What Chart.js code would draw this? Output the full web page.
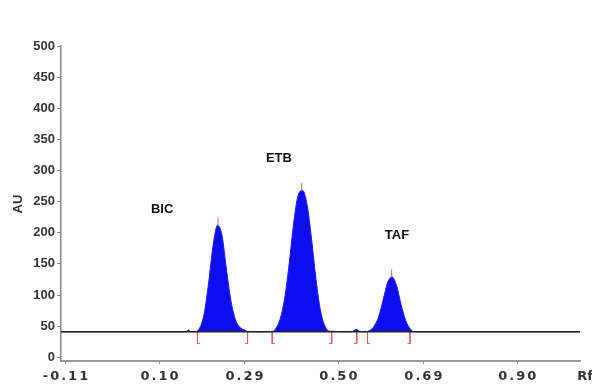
<!DOCTYPE html>
<html lang="en">
  <head>
    <meta charset="UTF-8" />
    <title>Densitogram</title>
    <script src="https://cdn.jsdelivr.net/npm/chart.js"></script>
    <style>
      html, body { margin: 0; padding: 0; background: #fff; }
      #wrap { width: 592px; height: 385px; position: relative; }
    </style>
  </head>
  <body>
    <div id="wrap"><canvas id="chart"></canvas></div>

    <script>
      // densitogram trace (Rf vs AU)
      const rfValues = [
        -0.12, 0.16, 0.165, 0.17, 0.18, 0.19, 0.20, 0.21, 0.22, 0.23, 0.24, 0.25, 0.26, 0.27, 0.28, 0.29, 0.30,
        0.35, 0.36, 0.37, 0.38, 0.39, 0.40, 0.41, 0.42, 0.43, 0.44, 0.45, 0.46, 0.47, 0.48,
        0.53, 0.54, 0.55,
        0.56, 0.57, 0.58, 0.59, 0.60, 0.61, 0.62, 0.63, 0.64, 0.65, 0.66, 0.67, 1.04
      ];
      const auValues = [
        41, 41, 44, 41, 41, 47, 70, 120, 180, 212, 195, 140, 90, 60, 48, 44, 41,
        41, 46, 62, 95, 150, 215, 260, 268, 245, 190, 125, 75, 50, 42,
        41, 45, 41,
        41, 43, 50, 65, 92, 120, 129, 115, 85, 60, 46, 41, 41
      ];
      const baselineAU = 41;

      const peakNames = ['BIC', 'ETB', 'TAF'];
      const peakRf = [0.231, 0.418, 0.619];
      const peakAU = [212, 268, 129];

      const bracketLeftRf = [0.185, 0.352, 0.565];
      const bracketRightRf = [0.297, 0.485, 0.541, 0.66];

      const xTickValues = [-0.11, 0.10, 0.29, 0.50, 0.69, 0.90];
      const yTickValues = [0, 50, 100, 150, 200, 250, 300, 350, 400, 450, 500];

      // where the peak names sit, in Rf / AU units
      const nameAnchors = [[0.106, 238], [0.367, 320], [0.631, 195]];

      const trace = rfValues.map((x, i) => ({ x: x, y: auValues[i] }));

      const markers = [];
      peakRf.forEach((x, i) => {
        markers.push({ x: x, y: peakAU[i] }, { x: x, y: peakAU[i] + 12 }, { x: x, y: null });
      });
      bracketLeftRf.forEach(x => {
        markers.push({ x: x, y: baselineAU }, { x: x, y: 22 }, { x: x + 0.006, y: 22 }, { x: x, y: null });
      });
      bracketRightRf.forEach(x => {
        markers.push({ x: x, y: baselineAU }, { x: x, y: 22 }, { x: x - 0.006, y: 22 }, { x: x, y: null });
      });

      const textPlugin = {
        id: 'texts',
        afterDraw(chart) {
          const c = chart.ctx;
          const xs = chart.scales.x;
          const ys = chart.scales.y;
          c.save();
          c.fillStyle = '#111';
          c.textAlign = 'center';
          c.textBaseline = 'middle';
          c.font = 'bold 13px "Liberation Sans", Arial, sans-serif';
          peakNames.forEach((name, i) => {
            c.fillText(name, xs.getPixelForValue(nameAnchors[i][0]), ys.getPixelForValue(nameAnchors[i][1]));
          });

          // x tick labels
          c.fillStyle = '#333';
          c.font = 'bold 13px "DejaVu Sans", Verdana, sans-serif';
          c.letterSpacing = '2px';
          xTickValues.forEach(v => {
            c.fillText(v.toFixed(2), xs.getPixelForValue(v) + 1, 377);
          });
          c.letterSpacing = '0px';
          c.fillText('Rf', 585, 377);

          c.translate(18, 204);
          c.rotate(-Math.PI / 2);
          c.font = 'bold 13px "Liberation Sans", Arial, sans-serif';
          c.fillText('AU', 0, 0);
          c.restore();
        }
      };

      new Chart(document.getElementById('chart'), {
        type: 'line',
        data: {
          datasets: [
            {
              data: [{ x: -0.12, y: baselineAU }, { x: 1.04, y: baselineAU }],
              borderColor: '#222',
              borderWidth: 1.5,
              pointRadius: 0,
              order: 0
            },
            {
              data: markers,
              borderColor: '#d06060',
              borderWidth: 1,
              pointRadius: 0,
              spanGaps: false,
              order: 1
            },
            {
              data: trace,
              borderColor: '#1a1aff',
              backgroundColor: '#0d0df0',
              borderWidth: 1,
              pointRadius: 0,
              cubicInterpolationMode: 'monotone',
              fill: { value: baselineAU },
              order: 2
            }
          ]
        },
        options: {
          responsive: true,
          maintainAspectRatio: false,
          animation: false,
          layout: { padding: { top: 46, right: 12, left: 0, bottom: 0 } },
          plugins: {
            legend: { display: false },
            tooltip: { enabled: false }
          },
          scales: {
            x: {
              type: 'linear',
              min: -0.12,
              max: 1.04,
              afterBuildTicks: axis => { axis.ticks = xTickValues.map(v => ({ value: v })); },
              afterFit: axis => { axis.height = 24; },
              ticks: { display: false },
              border: { color: '#999', width: 2 },
              grid: { drawOnChartArea: false, tickLength: 3, color: '#999' }
            },
            y: {
              min: -6,
              max: 500,
              afterBuildTicks: axis => { axis.ticks = yTickValues.map(v => ({ value: v })); },
              afterFit: axis => { axis.width = 61; },
              ticks: {
                color: '#333',
                padding: 2,
                font: { family: '"Liberation Sans", Arial, sans-serif', size: 13, weight: 'bold' }
              },
              border: { color: '#888', width: 1.5 },
              grid: { drawOnChartArea: false, tickLength: 4, color: '#888' }
            }
          }
        },
        plugins: [textPlugin]
      });
    </script>
  </body>
</html>
